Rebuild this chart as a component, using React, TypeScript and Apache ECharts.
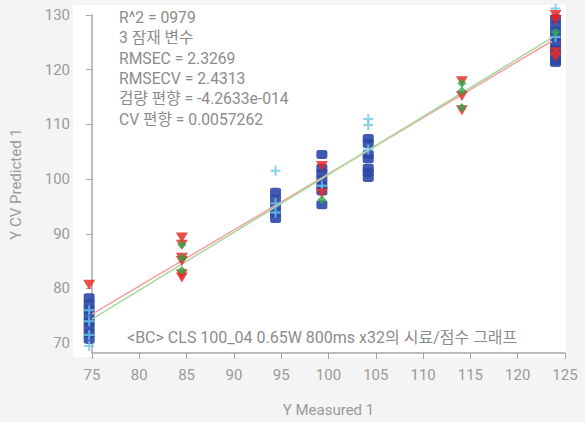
import React, { useEffect, useRef } from "react";
import * as echarts from "echarts";

const xTicks = [75, 80, 85, 90, 95, 100, 105, 110, 115, 120, 125];
const yTicks = [70, 80, 90, 100, 110, 120, 130];

const bluePoints: [number, number][] = [
  [74.7, 70.7], [74.7, 71.8], [74.7, 72.9], [74.7, 73.9], [74.7, 75.0], [74.7, 76.1], [74.7, 77.2], [74.7, 78.3],
  [94.4, 97.6], [94.4, 96.4], [94.4, 95.1], [94.4, 93.9], [94.4, 92.8],
  [99.3, 104.5], [99.3, 102.0], [99.3, 101.0], [99.3, 99.9], [99.3, 98.8], [99.3, 97.8], [99.3, 95.3],
  [104.2, 107.4], [104.2, 106.5], [104.2, 104.5], [104.2, 103.7], [104.2, 102.0], [104.2, 101.2], [104.2, 100.3],
  [124.0, 129.3], [124.0, 128.2], [124.0, 127.1], [124.0, 126.0], [124.0, 124.9], [124.0, 123.8], [124.0, 122.8], [124.0, 121.7], [124.0, 121.3],
];

const cyanPoints: [number, number][] = [
  [74.7, 69.5], [74.7, 71.5], [74.7, 74.0], [74.7, 76.0],
  [94.4, 101.5], [94.4, 95.6], [94.4, 93.9],
  [99.3, 98.8], [99.3, 98.0],
  [104.2, 111.0], [104.2, 109.9], [104.2, 105.4],
  [124.0, 131.2], [124.0, 126.0], [124.0, 123.0],
];

const redPoints: [number, number][] = [
  [74.7, 80.7],
  [84.5, 89.3], [84.5, 88.0], [84.5, 85.6], [84.5, 85.0], [84.5, 82.6], [84.5, 82.0],
  [99.3, 102.4], [99.3, 97.4],
  [114.1, 117.9], [114.1, 115.2], [114.1, 112.6],
  [124.0, 130.0], [124.0, 129.1], [124.0, 123.2], [124.0, 122.3],
];

const greenPoints: [number, number][] = [
  [84.5, 88.0], [84.5, 85.6], [84.5, 83.3],
  [99.3, 96.2],
  [114.1, 117.5], [114.1, 116.1], [114.1, 113.1],
  [124.0, 126.8],
];

const redLine: [number, number][] = [[75.0, 75.3], [123.6, 125.2]];
const greenLine: [number, number][] = [[75.0, 74.4], [123.6, 125.8]];

const statsLines = [
  "R^2 = 0979",
  "3 잠재 변수",
  "RMSEC = 2.3269",
  "RMSECV = 2.4313",
  "검량 편향 = -4.2633e-014",
  "CV 편향 = 0.0057262",
];
const footnote = "<BC> CLS 100_04 0.65W 800ms x32의 시료/점수 그래프";

const FONT = 'Roboto, "Noto Sans CJK KR", sans-serif';
const plusPath = "path://M4,0H6V4H10V6H6V10H4V6H0V4H4Z";

export default function App() {
  const ref = useRef<HTMLDivElement>(null);
  useEffect(() => {
    if (!ref.current) return;
    const chart = echarts.init(ref.current, null, { renderer: "svg" });
    chart.setOption({
      animation: false,
      backgroundColor: "#f4f4f4",
      textStyle: { fontFamily: FONT },
      grid: { left: 86, right: 20, top: 15, bottom: 60, containLabel: false },
      graphic: [
        {
          type: "rect",
          z: -10,
          silent: true,
          shape: { x: 73, y: 5, width: 493, height: 352 },
          style: { fill: "#ffffff" },
        },
        {
          type: "text",
          z: 10,
          x: 119,
          y: 7,
          style: {
            text: statsLines.join("\n"),
            fill: "#8c8c8c",
            font: `15.7px ${FONT}`,
            lineHeight: 20.4,
          },
        },
        {
          type: "text",
          z: 10,
          x: 127,
          y: 337,
          style: {
            text: footnote,
            fill: "#8c8c8c",
            font: `16px ${FONT}`,
            verticalAlign: "middle",
          },
        },
      ],
      xAxis: {
        type: "value",
        min: 75,
        max: 125,
        interval: 5,
        name: "Y Measured 1",
        nameLocation: "middle",
        nameGap: 49,
        nameTextStyle: { color: "#9a9a9a", fontSize: 15, fontFamily: FONT },
        axisLine: { show: true, onZero: false, lineStyle: { color: "#a6a6a6", width: 1.5 } },
        axisTick: { show: true, length: 6, lineStyle: { color: "#a6a6a6" } },
        axisLabel: { color: "#9a9a9a", fontSize: 15, margin: 14, fontFamily: FONT },
        splitLine: { show: false },
      },
      yAxis: {
        type: "value",
        min: 68.2,
        max: 130,
        name: "Y CV Predicted 1",
        nameLocation: "middle",
        nameGap: 69,
        nameTextStyle: { color: "#9a9a9a", fontSize: 15, fontFamily: FONT },
        axisLine: { show: true, onZero: false, lineStyle: { color: "#a6a6a6", width: 1.5 } },
        axisTick: { show: true, length: 6, customValues: yTicks, lineStyle: { color: "#a6a6a6" } },
        axisLabel: { color: "#9a9a9a", fontSize: 15, margin: 22, fontFamily: FONT, customValues: yTicks },
        splitLine: { show: false },
      },
      series: [
        {
          type: "scatter",
          clip: false,
          z: 2,
          symbol: "roundRect",
          symbolSize: [11, 9],
          itemStyle: { color: "#2c48a8", opacity: 0.9 },
          data: bluePoints,
        },
        {
          type: "line",
          z: 3,
          symbol: "none",
          lineStyle: { color: "#f4a0a0", width: 1.5 },
          data: redLine,
        },
        {
          type: "line",
          z: 3,
          symbol: "none",
          lineStyle: { color: "#a6d8a0", width: 1.5 },
          data: greenLine,
        },
        {
          type: "scatter",
          clip: false,
          z: 4,
          symbol: plusPath,
          symbolSize: 10,
          itemStyle: { color: "#6cc8e6" },
          data: cyanPoints,
        },
        {
          type: "scatter",
          clip: false,
          z: 5,
          symbol: "triangle",
          symbolRotate: 180,
          symbolSize: [12, 10],
          itemStyle: { color: "#e8201e" },
          data: redPoints,
        },
        {
          type: "scatter",
          clip: false,
          z: 6,
          symbol: "diamond",
          symbolSize: [9, 9],
          itemStyle: { color: "#2fa84a" },
          data: greenPoints,
        },
      ],
    });
    return () => chart.dispose();
  }, []);
  return <div ref={ref} style={{ width: 585, height: 422, position: "absolute", left: 0, top: 0 }} />;
}
